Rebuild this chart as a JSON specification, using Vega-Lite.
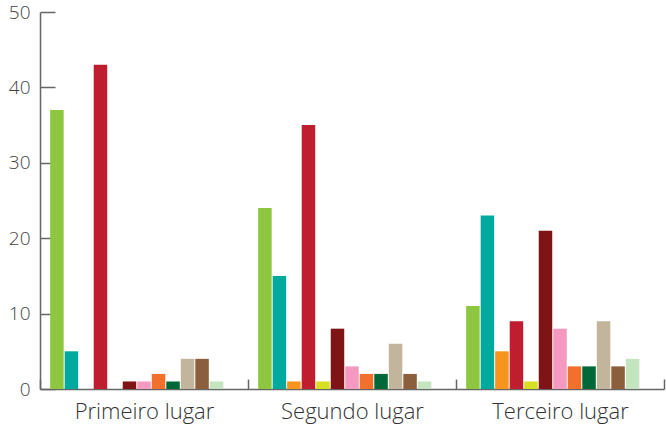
{
  "$schema": "https://vega.github.io/schema/vega-lite/v6.json",
  "width": 624,
  "height": 377,
  "autosize": {"type": "none"},
  "padding": {"left": 40, "top": 12, "right": 2, "bottom": 40},
  "background": "white",
  "config": {"view": {"stroke": null}},
  "data": {
    "values": [
      {"lugar": "Primeiro lugar", "serie": "S01", "valor": 37},
      {"lugar": "Primeiro lugar", "serie": "S02", "valor": 5},
      {"lugar": "Primeiro lugar", "serie": "S03", "valor": 0},
      {"lugar": "Primeiro lugar", "serie": "S04", "valor": 43},
      {"lugar": "Primeiro lugar", "serie": "S05", "valor": 0},
      {"lugar": "Primeiro lugar", "serie": "S06", "valor": 1},
      {"lugar": "Primeiro lugar", "serie": "S07", "valor": 1},
      {"lugar": "Primeiro lugar", "serie": "S08", "valor": 2},
      {"lugar": "Primeiro lugar", "serie": "S09", "valor": 1},
      {"lugar": "Primeiro lugar", "serie": "S10", "valor": 4},
      {"lugar": "Primeiro lugar", "serie": "S11", "valor": 4},
      {"lugar": "Primeiro lugar", "serie": "S12", "valor": 1},
      {"lugar": "Segundo lugar", "serie": "S01", "valor": 24},
      {"lugar": "Segundo lugar", "serie": "S02", "valor": 15},
      {"lugar": "Segundo lugar", "serie": "S03", "valor": 1},
      {"lugar": "Segundo lugar", "serie": "S04", "valor": 35},
      {"lugar": "Segundo lugar", "serie": "S05", "valor": 1},
      {"lugar": "Segundo lugar", "serie": "S06", "valor": 8},
      {"lugar": "Segundo lugar", "serie": "S07", "valor": 3},
      {"lugar": "Segundo lugar", "serie": "S08", "valor": 2},
      {"lugar": "Segundo lugar", "serie": "S09", "valor": 2},
      {"lugar": "Segundo lugar", "serie": "S10", "valor": 6},
      {"lugar": "Segundo lugar", "serie": "S11", "valor": 2},
      {"lugar": "Segundo lugar", "serie": "S12", "valor": 1},
      {"lugar": "Terceiro lugar", "serie": "S01", "valor": 11},
      {"lugar": "Terceiro lugar", "serie": "S02", "valor": 23},
      {"lugar": "Terceiro lugar", "serie": "S03", "valor": 5},
      {"lugar": "Terceiro lugar", "serie": "S04", "valor": 9},
      {"lugar": "Terceiro lugar", "serie": "S05", "valor": 1},
      {"lugar": "Terceiro lugar", "serie": "S06", "valor": 21},
      {"lugar": "Terceiro lugar", "serie": "S07", "valor": 8},
      {"lugar": "Terceiro lugar", "serie": "S08", "valor": 3},
      {"lugar": "Terceiro lugar", "serie": "S09", "valor": 3},
      {"lugar": "Terceiro lugar", "serie": "S10", "valor": 9},
      {"lugar": "Terceiro lugar", "serie": "S11", "valor": 3},
      {"lugar": "Terceiro lugar", "serie": "S12", "valor": 4}
    ]
  },
  "mark": {"type": "bar"},
  "encoding": {
    "x": {
      "field": "lugar",
      "type": "nominal",
      "sort": null,
      "scale": {"paddingInner": 0, "paddingOuter": 0},
      "axis": {
        "title": null,
        "labelAngle": 0,
        "tickBand": "extent",
        "tickSize": -10,
        "tickColor": "#666",
        "domainColor": "#666",
        "domainWidth": 1.5,
        "tickWidth": 1.5,
        "labelPadding": 22,
        "labelFont": "Open Sans",
        "labelFontWeight": 300,
        "labelFontSize": 22,
        "labelColor": "#333"
      }
    },
    "xOffset": {
      "field": "serie",
      "type": "nominal",
      "scale": {
        "domain": ["S01","S02","S03","S04","S05","S06","S07","S08","S09","S10","S11","S12","S13"],
        "paddingInner": 0.07,
        "paddingOuter": 0.7
      }
    },
    "y": {
      "field": "valor",
      "type": "quantitative",
      "scale": {"domain": [0, 50], "nice": false},
      "axis": {
        "title": null,
        "values": [0, 10, 20, 30, 40, 50],
        "grid": false,
        "tickSize": -15,
        "tickColor": "#666",
        "tickWidth": 1.5,
        "domainColor": "#666",
        "domainWidth": 1.5,
        "labelPadding": 25,
        "labelFont": "Open Sans",
        "labelFontWeight": 300,
        "labelFontSize": 19,
        "labelColor": "#444"
      }
    },
    "color": {
      "field": "serie",
      "type": "nominal",
      "legend": null,
      "scale": {
        "domain": ["S01","S02","S03","S04","S05","S06","S07","S08","S09","S10","S11","S12"],
        "range": ["#8dc63f","#00a99d","#f7941d","#be1e2d","#d7df23","#7f1416","#f49ac1","#f26f2c","#006838","#c2b59b","#8b5e3c","#c4e3bf"]
      }
    }
  }
}
